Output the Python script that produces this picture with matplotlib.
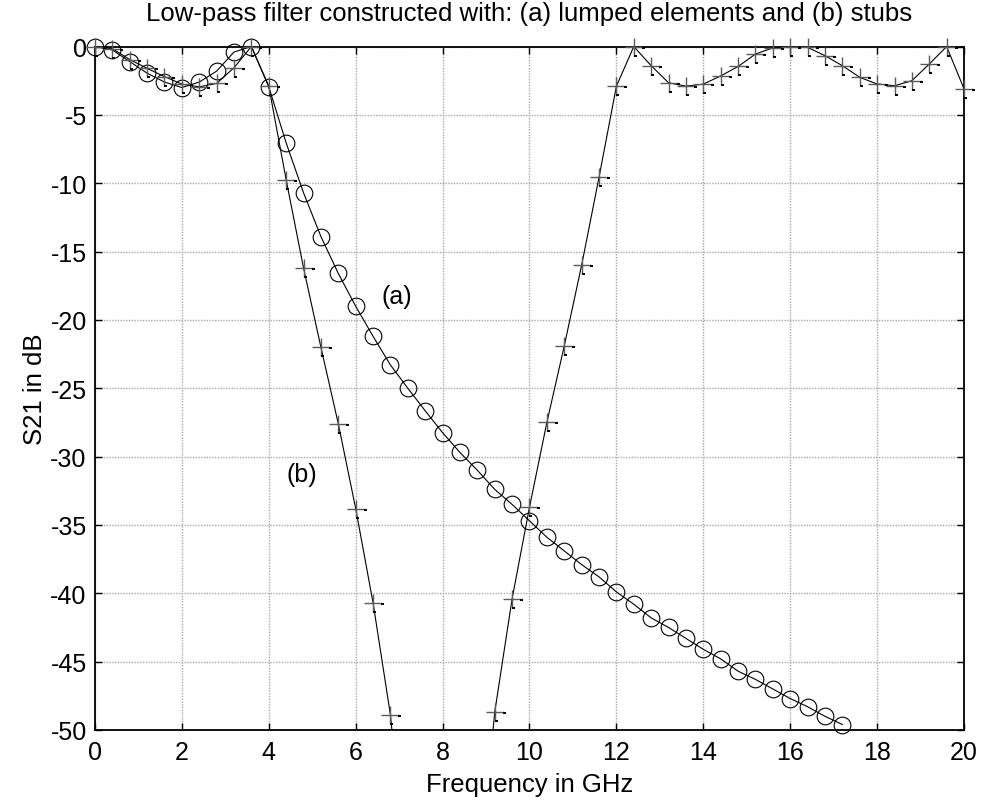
import numpy as np
import matplotlib
matplotlib.use("Agg")
import matplotlib.pyplot as plt
from matplotlib.path import Path

plt.rcParams['font.family'] = ['Liberation Sans', 'DejaVu Sans']
plt.rcParams['axes.unicode_minus'] = False

# (a) lumped-element low-pass filter, S21 in dB
freq_a = [0.0, 0.4, 0.8, 1.2, 1.6, 2.0, 2.4, 2.8, 3.2, 3.6, 4.0, 4.4, 4.8, 5.2, 5.6,
          6.0, 6.4, 6.8, 7.2, 7.6, 8.0, 8.4, 8.8, 9.2, 9.6, 10.0, 10.4, 10.8, 11.2,
          11.6, 12.0, 12.4, 12.8, 13.2, 13.6, 14.0, 14.4, 14.8, 15.2, 15.6, 16.0,
          16.4, 16.8, 17.2]
s21_a = [0.0, -0.25, -1.1, -1.95, -2.6, -3.0, -2.6, -1.8, -0.4, 0.0, -2.95, -7.05,
         -10.7, -13.9, -16.6, -19.0, -21.2, -23.3, -25.0, -26.65, -28.25, -29.7,
         -31.0, -32.4, -33.5, -34.7, -35.9, -36.9, -37.9, -38.8, -39.9, -40.8,
         -41.8, -42.5, -43.3, -44.1, -44.8, -45.7, -46.3, -47.0, -47.7, -48.3,
         -49.0, -49.6]

# (b) stub low-pass filter, S21 in dB
freq_b = [0.0, 0.4, 0.8, 1.2, 1.6, 2.0, 2.4, 2.8, 3.2, 3.6, 4.0, 4.4, 4.8, 5.2, 5.6,
          6.0, 6.4, 6.8, 7.2, 7.6, 8.0, 8.4, 8.8, 9.2, 9.6, 10.0, 10.4, 10.8, 11.2,
          11.6, 12.0, 12.4, 12.8, 13.2, 13.6, 14.0, 14.4, 14.8, 15.2, 15.6, 16.0,
          16.4, 16.8, 17.2, 17.6, 18.0, 18.4, 18.8, 19.2, 19.6, 20.0]
s21_b = [0.0, -0.15, -0.95, -1.6, -2.2, -2.75, -2.95, -2.7, -1.55, 0.0, -2.9, -9.75,
         -16.2, -22.0, -27.6, -33.8, -40.7, -48.9, -62.0, -75.0, -85.0, -75.0, -62.0,
         -48.7, -40.4, -33.7, -27.5, -21.9, -16.0, -9.57, -2.9, 0.0, -1.4, -2.65,
         -2.9, -2.75, -2.15, -1.46, -0.55, -0.1, 0.0, -0.06, -0.67, -1.4, -2.25,
         -2.74, -2.87, -2.5, -1.28, 0.0, -3.1]

x_ticks = [0, 2, 4, 6, 8, 10, 12, 14, 16, 18, 20]
y_ticks = [0, -5, -10, -15, -20, -25, -30, -35, -40, -45, -50]
x_lim = (0, 20)
y_lim = (-50, 0)

fig = plt.figure(figsize=(9.82, 8.03), dpi=100)
ax = fig.add_axes([0.0967, 0.0897, 0.8850, 0.8511])
ax.set_xlim(*x_lim)
ax.set_ylim(*y_lim)

fa = np.asarray(freq_a)
sa = np.asarray(s21_a)
fb = np.asarray(freq_b)
sb = np.asarray(s21_b)

# connecting lines, clipped to the axes
ax.plot(fa, sa, color='black', lw=0.8, zorder=3)
ax.plot(fb, sb, color='black', lw=0.8, zorder=3)

# markers only where the point lies inside the plotted range
in_a = np.where(sa >= y_lim[0], sa, np.nan)
in_b = np.where(sb >= y_lim[0], sb, np.nan)
ax.plot(fa, in_a, ls='none', marker='o', ms=12, mfc='none', mec='black',
        mew=0.8, clip_on=False, zorder=4)
ax.plot(fb, in_b, ls='none', marker='+', ms=12.5, mec='#5a5a5a',
        mew=1.0, clip_on=False, zorder=4)

# small black dashes that accompany each plus marker
dash_verts = [(8.0, -0.6), (11.0, -0.6), (0.0, -8.6), (2.8, -8.6),
              (-11.0, 11.0), (-11.0, 11.0)]
dash_codes = [Path.MOVETO, Path.LINETO, Path.MOVETO, Path.LINETO,
              Path.MOVETO, Path.LINETO]
dash_marker = Path(dash_verts, dash_codes)
ax.plot(fb, in_b, ls='none', marker=dash_marker, ms=15.84, mfc='none',
        mec='black', mew=1.4, clip_on=False, zorder=5)

# dotted grid
ax.set_xticks(x_ticks)
ax.set_yticks(y_ticks)
ax.grid(True, color='#a8a8a8', ls=(0, (1, 1)), lw=1.0)
ax.set_axisbelow(True)

ax.tick_params(direction='in', length=5, width=1.0, colors='black',
               top=True, right=True, labelsize=18)
ax.tick_params(axis='x', pad=7)
ax.tick_params(axis='y', pad=6)
for s in ax.spines.values():
    s.set_linewidth(1.3)
    s.set_color('black')

ax.set_title('Low-pass filter constructed with: (a) lumped elements and (b) stubs',
             fontsize=18.5, pad=19)
ax.set_xlabel('Frequency in GHz', fontsize=18.5, labelpad=6)
ax.set_ylabel('S21 in dB', fontsize=18.5, labelpad=2)

ax.text(6.95, -18.25, '(a)', fontsize=18, ha='center', va='center')
ax.text(4.77, -31.3, '(b)', fontsize=18, ha='center', va='center')

fig.savefig('out.png', dpi=100)
